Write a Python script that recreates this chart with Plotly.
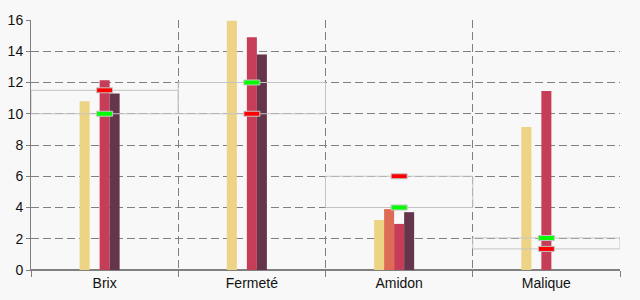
import plotly.graph_objects as go

categories = ["Brix", "Fermeté", "Amidon", "Malique"]
series_names = ["S1", "S2", "S3", "S4", "S5"]
series_values = [
    [10.8, 15.95, 3.2, 9.15],
    [0, 0, 3.9, 0],
    [12.15, 14.9, 2.95, 11.45],
    [11.3, 13.8, 3.7, 0],
    [0, 0, 0, 0],
]
series_colors = ["#EDD384", "#DE6B55", "#C63D58", "#64354B", "#4F8C95"]
red_marks = [11.5, 10.0, 6.0, 1.35]
green_marks = [10.0, 12.0, 4.0, 2.05]
y_ticks = [0, 2, 4, 6, 8, 10, 12, 14, 16]

fig = go.Figure()
for name, vals, col in zip(series_names, series_values, series_colors):
    fig.add_trace(go.Bar(x=categories, y=vals, name=name, marker_color=col,
                         marker_line_width=0))

for i, (r, g) in enumerate(zip(red_marks, green_marks)):
    lo, hi = min(r, g), max(r, g)
    fig.add_shape(type="rect", xref="x", yref="y", x0=i - 0.5, x1=i + 0.5,
                  y0=lo, y1=hi, line=dict(color="#C4C4C4", width=1),
                  fillcolor="rgba(0,0,0,0)", layer="above")
    for v, c in ((r, "#FF0000"), (g, "#00FF00")):
        fig.add_shape(type="rect", xref="x", yref="y", xsizemode="pixel",
                      ysizemode="pixel", xanchor=i, yanchor=v,
                      x0=-8, x1=8, y0=-2.5, y1=2.5,
                      line=dict(color="#C4C4C4", width=1), fillcolor=c,
                      layer="above")

fig.update_layout(
    width=640, height=300,
    margin=dict(l=31, r=20, t=20, b=30),
    paper_bgcolor="#F8F8F8", plot_bgcolor="#F8F8F8",
    barmode="group", bargap=0.66, bargroupgap=0,
    showlegend=False,
    font=dict(family="Liberation Sans, Arial, sans-serif", size=14, color="#111111"),
)
fig.update_xaxes(type="category", tickson="boundaries", ticks="outside", ticklen=6,
                 tickcolor="#808080", showline=True, linecolor="#808080",
                 showgrid=True, gridcolor="#808080", griddash="8px,4px", gridwidth=1,
                 range=[-0.5, 3.5], automargin=False)
fig.update_yaxes(range=[0, 16], tickvals=y_ticks, ticks="outside", ticklen=4,
                 tickcolor="#808080", showline=True, linecolor="#808080",
                 showgrid=True, gridcolor="#808080", griddash="8px,4px", gridwidth=1,
                 zeroline=True, zerolinecolor="#808080", automargin=False)

fig.write_html("out.html")
